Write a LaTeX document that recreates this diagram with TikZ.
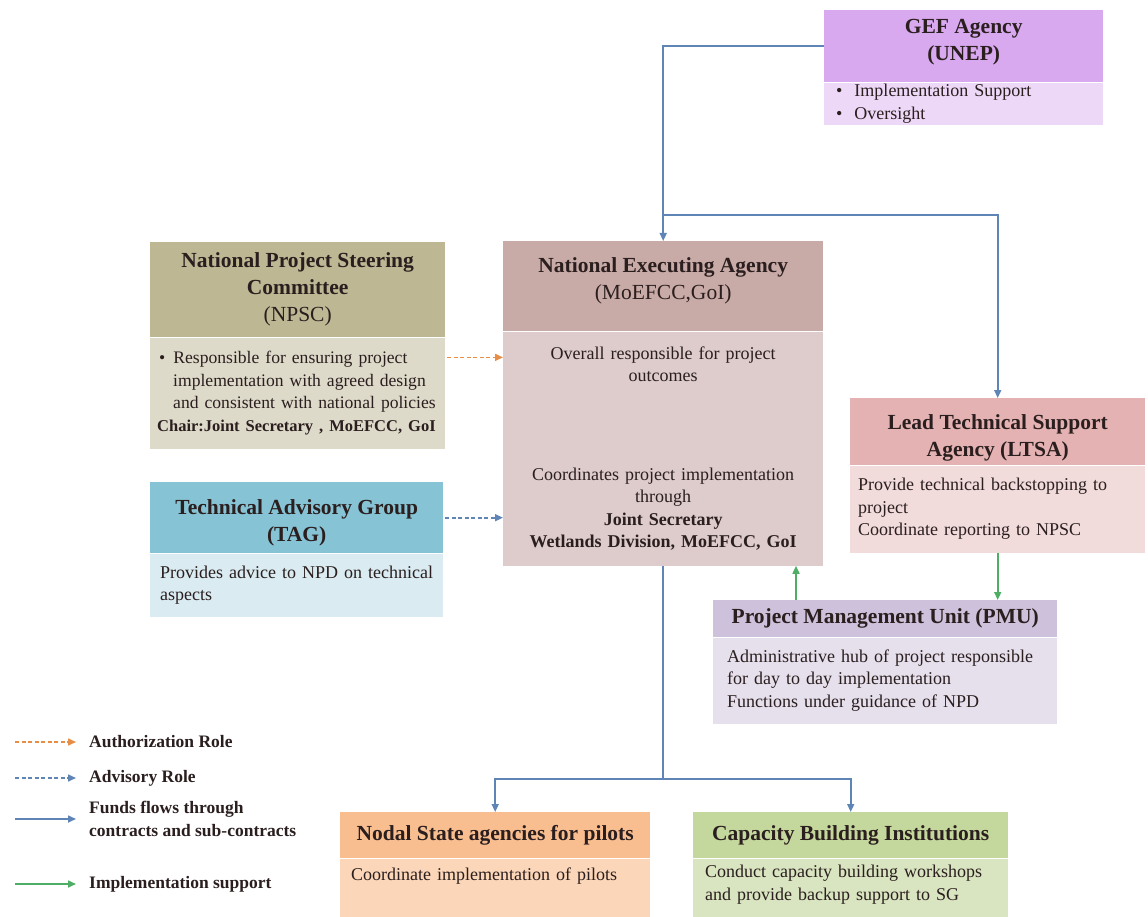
\documentclass[tikz,border=0pt]{standalone}
\usepackage{fontspec}
\setmainfont{Liberation Serif}
\usepackage{xcolor}
\usepackage{tikz}
\usetikzlibrary{calc,arrows.meta}

\definecolor{gefHd}{HTML}{D8A9EF}
\definecolor{gefBd}{HTML}{EDD8F7}
\definecolor{npscHd}{HTML}{BDB793}
\definecolor{npscBd}{HTML}{DEDACA}
\definecolor{neaHd}{HTML}{C8AAA6}
\definecolor{neaBd}{HTML}{DDCCCB}
\definecolor{ltsaHd}{HTML}{E4B2B2}
\definecolor{ltsaBd}{HTML}{F1DBDB}
\definecolor{tagHd}{HTML}{86C3D5}
\definecolor{tagBd}{HTML}{DAECF2}
\definecolor{pmuHd}{HTML}{CDC1DB}
\definecolor{pmuBd}{HTML}{E6E0ED}
\definecolor{nodalHd}{HTML}{F8BE90}
\definecolor{nodalBd}{HTML}{FBD6B8}
\definecolor{capHd}{HTML}{C4D79C}
\definecolor{capBd}{HTML}{D9E5C0}
\definecolor{fundBlue}{HTML}{5F84B6}
\definecolor{authOrange}{HTML}{E88D45}
\definecolor{implGreen}{HTML}{4FAE66}
\definecolor{txtDark}{HTML}{2A1E1E}

\newcommand{\hdfont}{\fontsize{21.5}{27}\selectfont\bfseries}
\newcommand{\bdfont}{\fontsize{18}{22.5}\selectfont}
\newcommand{\lgfont}{\fontsize{17.5}{23}\selectfont\bfseries}

\begin{document}
\begin{tikzpicture}[x=1pt, y=-1pt,
    hd/.style={anchor=north west, inner sep=0pt, align=center, font=\hdfont, text=txtDark},
    bd/.style={anchor=north west, inner xsep=10pt, inner ysep=0pt, align=left, font=\bdfont, text=txtDark},
    lg/.style={anchor=west, inner sep=0pt, align=left, font=\lgfont, text=txtDark},
    fund/.style={fundBlue, line width=1.6pt, -{Triangle[length=8pt,width=7pt]}},
    auth/.style={authOrange, line width=1.6pt, dash pattern=on 4pt off 2.5pt, -{Triangle[length=8pt,width=7pt]}},
    adv/.style={fundBlue, line width=1.6pt, dash pattern=on 4pt off 2.5pt, -{Triangle[length=8pt,width=7pt]}},
    impl/.style={implGreen, line width=1.6pt, -{Triangle[length=8pt,width=7pt]}}
  ]
  \useasboundingbox (0,0) rectangle (1148,917);

  % GEF Agency
  \node[hd, fill=gefHd, minimum width=279, minimum height=72] (gefHead) at (824,10) {GEF Agency\\(UNEP)\\[-14pt]\mbox{}};
  \node[bd, fill=gefBd, text width=255, inner xsep=12pt, minimum height=42] (gefBody) at (gefHead.south west)
    {\textbullet\hspace{12pt}Implementation Support\\\textbullet\hspace{12pt}Oversight};

  % 運営委員会 (NPSC)
  \node[hd, fill=npscHd, minimum width=295, minimum height=95] (npscHead) at (150,242)
    {National Project Steering\\Committee\\{\mdseries (NPSC)}};
  \node[bd, fill=npscBd, text width=281, inner xsep=7pt, minimum height=111] (npscBody) at (npscHead.south west)
    {\fontsize{17.6}{22.5}\selectfont
     \hspace*{2pt}\textbullet\hspace{8pt}Responsible for ensuring project\\
     \hspace*{16pt}implementation with agreed design\\
     \hspace*{16pt}and consistent with national policies\\
     {\fontsize{16.5}{22.5}\selectfont\bfseries Chair:Joint Secretary , MoEFCC, GoI}};

  % 実施機関 (NEA)
  \node[hd, fill=neaHd, minimum width=320, minimum height=90] (neaHead) at (503,241)
    {National Executing Agency\\{\mdseries (MoEFCC,GoI)}\\[-12pt]\mbox{}};
  \node[bd, fill=neaBd, text width=300, align=center, minimum height=324-90] (neaBody) at (neaHead.south west)
    {Overall responsible for project\\outcomes\\[76pt]
     Coordinates project implementation\\through\\
     \textbf{Joint Secretary}\\\textbf{Wetlands Division, MoEFCC, GoI}};

  % LTSA
  \node[hd, fill=ltsaHd, minimum width=295, minimum height=67] (ltsaHead) at (850,398)
    {Lead Technical Support\\Agency (LTSA)\\[-35pt]\mbox{}};
  \node[bd, fill=ltsaBd, text width=279, inner xsep=8pt, minimum height=87] (ltsaBody) at (ltsaHead.south west)
    {Provide technical backstopping to\\project\\Coordinate reporting to NPSC};

  % TAG
  \node[hd, fill=tagHd, minimum width=293, minimum height=71] (tagHead) at (150,482)
    {Technical Advisory Group\\(TAG)\\[-32pt]\mbox{}};
  \node[bd, fill=tagBd, text width=273, minimum height=63] (tagBody) at (tagHead.south west)
    {Provides advice to NPD on technical\\aspects};

  % PMU
  \node[hd, fill=pmuHd, minimum width=344, minimum height=37] (pmuHead) at (713,600)
    {Project Management Unit (PMU)};
  \node[bd, fill=pmuBd, text width=316, inner xsep=14pt, minimum height=86] (pmuBody) at (pmuHead.south west)
    {Administrative hub of project responsible\\for day to day implementation\\Functions under guidance of NPD};

  % 下段の二つの箱
  \node[hd, fill=nodalHd, minimum width=310, minimum height=46] (nodalHead) at (340,812)
    {Nodal State agencies for pilots};
  \node[bd, fill=nodalBd, text width=288, inner xsep=11pt, minimum height=59] (nodalBody) at (nodalHead.south west)
    {Coordinate implementation of pilots\\[6pt]\mbox{}};
  \node[hd, fill=capHd, minimum width=315, minimum height=46] (capHead) at (693,812)
    {Capacity Building Institutions};
  \node[bd, fill=capBd, text width=291, inner xsep=12pt, minimum height=59] (capBody) at (capHead.south west)
    {Conduct capacity building workshops\\and provide backup support to SG\\[-12pt]\mbox{}};

  % 資金の流れ (青)
  \coordinate (branch) at ([yshift=26pt]neaHead.north);
  \coordinate (fork) at ([yshift=-213pt]neaBody.south);
  \draw[fund] (gefHead.west) -| (neaHead.north);
  \draw[fund] (branch) -| (ltsaHead.north);
  \draw[fund] (neaBody.south) -- (fork) -| (nodalHead.north);
  \draw[fund] (fork) -| (capHead.north);

  % 破線の矢印
  \coordinate (authStart) at ([yshift=-20pt,xshift=2pt]npscBody.north east);
  \draw[auth] (authStart) -- (authStart -| neaBody.west);
  \draw[adv] ([xshift=2pt]tagHead.east) -- (tagHead.east -| neaBody.west);

  % 実施支援 (緑)
  \coordinate (pmuUp) at ([xshift=83pt]pmuHead.north west);
  \draw[impl] (pmuUp) -- (pmuUp |- neaBody.south);
  \draw[impl] (ltsaBody.south) -- (ltsaBody.south |- pmuHead.north);

  % 凡例
  \node[lg] (legAuth) at (89,742) {Authorization Role};
  \node[lg] (legAdv) at (89,778) {Advisory Role};
  \node[lg] (legFund) at (89,819) {Funds flows through\\contracts and sub-contracts};
  \node[lg] (legImpl) at (89,884) {Implementation support};
  \coordinate (legAuthTail) at (15,742);
  \coordinate (legAdvTail) at (15,778);
  \coordinate (legFundTail) at (15,819);
  \coordinate (legImplTail) at (15,884);
  \draw[auth] (legAuthTail) -- ([xshift=-13pt]legAuth.west);
  \draw[adv] (legAdvTail) -- ([xshift=-13pt]legAdv.west);
  \draw[fund] (legFundTail) -- ([xshift=-13pt]legFund.west);
  \draw[impl] (legImplTail) -- ([xshift=-13pt]legImpl.west);
\end{tikzpicture}
\end{document}
